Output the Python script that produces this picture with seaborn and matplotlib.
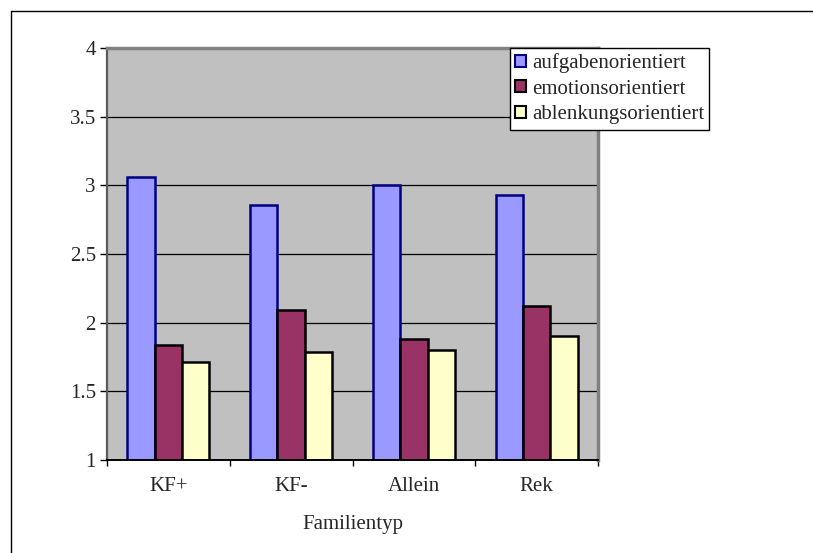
import matplotlib
matplotlib.use("Agg")
import matplotlib.pyplot as plt
from matplotlib.patches import Patch
from matplotlib.lines import Line2D
import seaborn as sns
import pandas as pd

# Familientyp categories and mean scores per coping style
familientyp = ["KF+", "KF-", "Allein", "Rek"]
aufgabenorientiert = [3.06, 2.86, 3.00, 2.93]
emotionsorientiert = [1.84, 2.09, 1.88, 2.12]
ablenkungsorientiert = [1.71, 1.79, 1.80, 1.90]
serien = ["aufgabenorientiert", "emotionsorientiert", "ablenkungsorientiert"]
y_ticks = [1, 1.5, 2, 2.5, 3, 3.5, 4]
y_tick_labels = ["1", "1.5", "2", "2.5", "3", "3.5", "4"]

fill_colors = ["#9999FF", "#993366", "#FFFFCC"]
edge_colors = ["#000080", "#000000", "#000000"]

df = pd.DataFrame({
    "Familientyp": familientyp * 3,
    "Stil": [s for s in serien for _ in familientyp],
    "Wert": aufgabenorientiert + emotionsorientiert + ablenkungsorientiert,
})

sns.set_style("white")
plt.rcParams["font.family"] = ["Liberation Serif", "DejaVu Serif"]
FS = 15

fig = plt.figure(figsize=(8.13, 5.53), dpi=100)
ax = fig.add_axes([107 / 813, 93 / 553, 491 / 813, 412 / 553])
ax.set_facecolor("#C0C0C0")

sns.barplot(data=df, x="Familientyp", y="Wert", hue="Stil", order=familientyp,
            hue_order=serien, palette=fill_colors, saturation=1, width=0.67,
            gap=0, linewidth=1.8, ax=ax, legend=False, zorder=3)
for cont, ec in zip(ax.containers, edge_colors):
    for bar in cont:
        bar.set_edgecolor(ec)

ax.set_ylim(1, 4)
ax.set_xlim(-0.5, 3.5)
ax.set_yticks(y_ticks)
ax.set_yticklabels(y_tick_labels)
ax.yaxis.grid(True, color="#000000", linewidth=0.9, zorder=0)
ax.set_axisbelow(True)

ax.tick_params(axis="y", which="major", direction="out", length=5, width=1,
               color="black", labelsize=FS, pad=3, left=True)
ax.set_xticks([-0.5, 0.5, 1.5, 2.5, 3.5], minor=True)
ax.tick_params(axis="x", which="minor", direction="out", length=4, width=1,
               color="black", bottom=True)
ax.tick_params(axis="x", which="major", length=0, labelsize=FS, pad=12)

ax.set_xlabel("Familientyp", fontsize=FS, labelpad=14)
ax.set_ylabel("")

for side in ["top", "right"]:
    ax.spines[side].set_color("#808080")
    ax.spines[side].set_linewidth(2.5)
ax.spines["left"].set_color("#5a5a5a")
ax.spines["left"].set_linewidth(1.6)
ax.spines["bottom"].set_color("#000000")
ax.spines["bottom"].set_linewidth(1.4)
for s in ax.spines.values():
    s.set_zorder(5)

handles = [Patch(facecolor=fc, edgecolor=ec, linewidth=1.5)
           for fc, ec in zip(fill_colors, edge_colors)]
leg = fig.legend(handles, serien, loc="upper left",
                 bbox_to_anchor=(510 / 813, 1 - 48 / 553),
                 bbox_transform=fig.transFigure, fontsize=FS,
                 frameon=True, fancybox=False, framealpha=1,
                 edgecolor="#000000", borderaxespad=0,
                 handlelength=0.5, handleheight=0.5, handletextpad=0.3,
                 labelspacing=0.32, borderpad=0.25)
leg.get_frame().set_linewidth(1.0)
leg.set_zorder(10)

# outer chart-area frame
fig.add_artist(Line2D([11 / 813, 1], [1 - 11 / 553, 1 - 11 / 553],
                      transform=fig.transFigure, color="black", linewidth=1))
fig.add_artist(Line2D([11 / 813, 11 / 813], [0, 1 - 11 / 553],
                      transform=fig.transFigure, color="black", linewidth=1))

fig.savefig("out.png", dpi=100)
